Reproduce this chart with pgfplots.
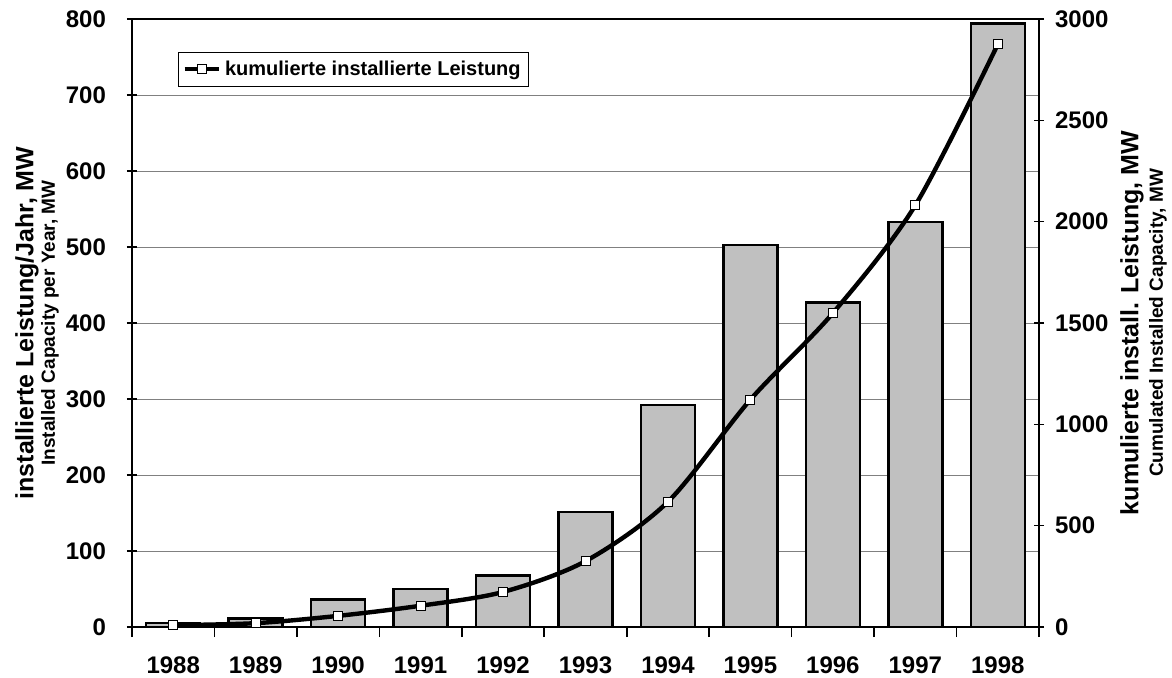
\documentclass[border=0pt]{standalone}
\usepackage{fontspec}
\setmainfont{Liberation Sans}
\usepackage{pgfplots}
\usepackage{pgfplotstable}
\pgfplotsset{compat=1.18}
\definecolor{barfill}{RGB}{192,192,192}
\definecolor{gridgray}{RGB}{128,128,128}

\pgfplotstableread{
x bar cum
0 5 9
1 11 19
2 36 55
3 50 105
4 68 173
5 151 325
6 292 618
7 503 1122
8 427 1549
9 533 2081
10 794 2875
}\data

\begin{document}
\begin{tikzpicture}
\useasboundingbox (-66pt,-25pt) rectangle (520pt,313.5pt);
\begin{axis}[
  at={(0,0)}, anchor=south west,
  scale only axis, width=453.5pt, height=304pt,
  xmin=-0.5, xmax=10.5, ymin=0, ymax=800,
  ytick={0,100,...,800},
  xtick={0,...,10},
  xticklabels={1988,1989,1990,1991,1992,1993,1994,1995,1996,1997,1998},
  minor xtick={-0.5,0.5,...,10.5},
  major x tick style={draw=none},
  xtick pos=bottom, ytick pos=left,
  tick align=center,
  major tick length=5pt, minor tick length=5pt,
  tick style={black, line width=0.8pt},
  axis line style={black, line width=1.2pt},
  ymajorgrids, grid style={gridgray, line width=0.5pt},
  /pgf/number format/assume math mode=true,
  /pgf/number format/1000 sep={},
  ticklabel style={font=\bfseries\fontsize{12}{14}\selectfont},
  yticklabel style={xshift=-7pt},
  xticklabel style={yshift=-6.5pt},
  ybar, bar width=27pt,
  clip=false,
]
\addplot[ybar, fill=barfill, draw=black, line width=1.2pt] table[x=x,y=bar]{\data};
\node[rotate=90, font=\bfseries\fontsize{12.5}{15}\selectfont] at ([xshift=-52.5pt]rel axis cs:0,0.5) {installierte Leistung/Jahr, MW};
\node[rotate=90, font=\bfseries\fontsize{9.5}{11}\selectfont] at ([xshift=-41pt]rel axis cs:0,0.5) {Installed Capacity per Year, MW};
\node[rotate=90, font=\bfseries\fontsize{12.5}{15}\selectfont] at ([xshift=46.5pt]rel axis cs:1,0.5) {kumulierte install. Leistung, MW};
\node[rotate=90, font=\bfseries\fontsize{9.5}{11}\selectfont] at ([xshift=59.5pt]rel axis cs:1,0.5) {Cumulated Installed Capacity, MW};
\end{axis}
\begin{axis}[
  at={(0,0)}, anchor=south west,
  scale only axis, width=453.5pt, height=304pt,
  xmin=-0.5, xmax=10.5, ymin=0, ymax=3000,
  axis x line=none,
  axis y line*=right,
  ytick={0,500,...,3000},
  tick align=center,
  major tick length=5pt,
  tick style={black, line width=0.8pt},
  axis line style={black, line width=1.2pt},
  /pgf/number format/assume math mode=true,
  /pgf/number format/1000 sep={},
  ticklabel style={font=\bfseries\fontsize{12}{14}\selectfont},
  yticklabel style={xshift=2pt},
  legend style={at={(axis description cs:0,1)}, anchor=north west,
    xshift=23pt, yshift=-16.5pt, draw=black, line width=0.5pt,
    font=\bfseries\fontsize{10}{12}\selectfont, inner sep=2pt},
  legend cell align=left,
]
\addplot[black, line width=2.2pt, smooth, mark=square*,
  mark options={fill=white, draw=black, line width=0.5pt, solid}, mark size=2.25pt]
  table[x=x,y=cum]{\data};
\addlegendentry{kumulierte installierte Leistung}
\end{axis}
\end{tikzpicture}
\end{document}
